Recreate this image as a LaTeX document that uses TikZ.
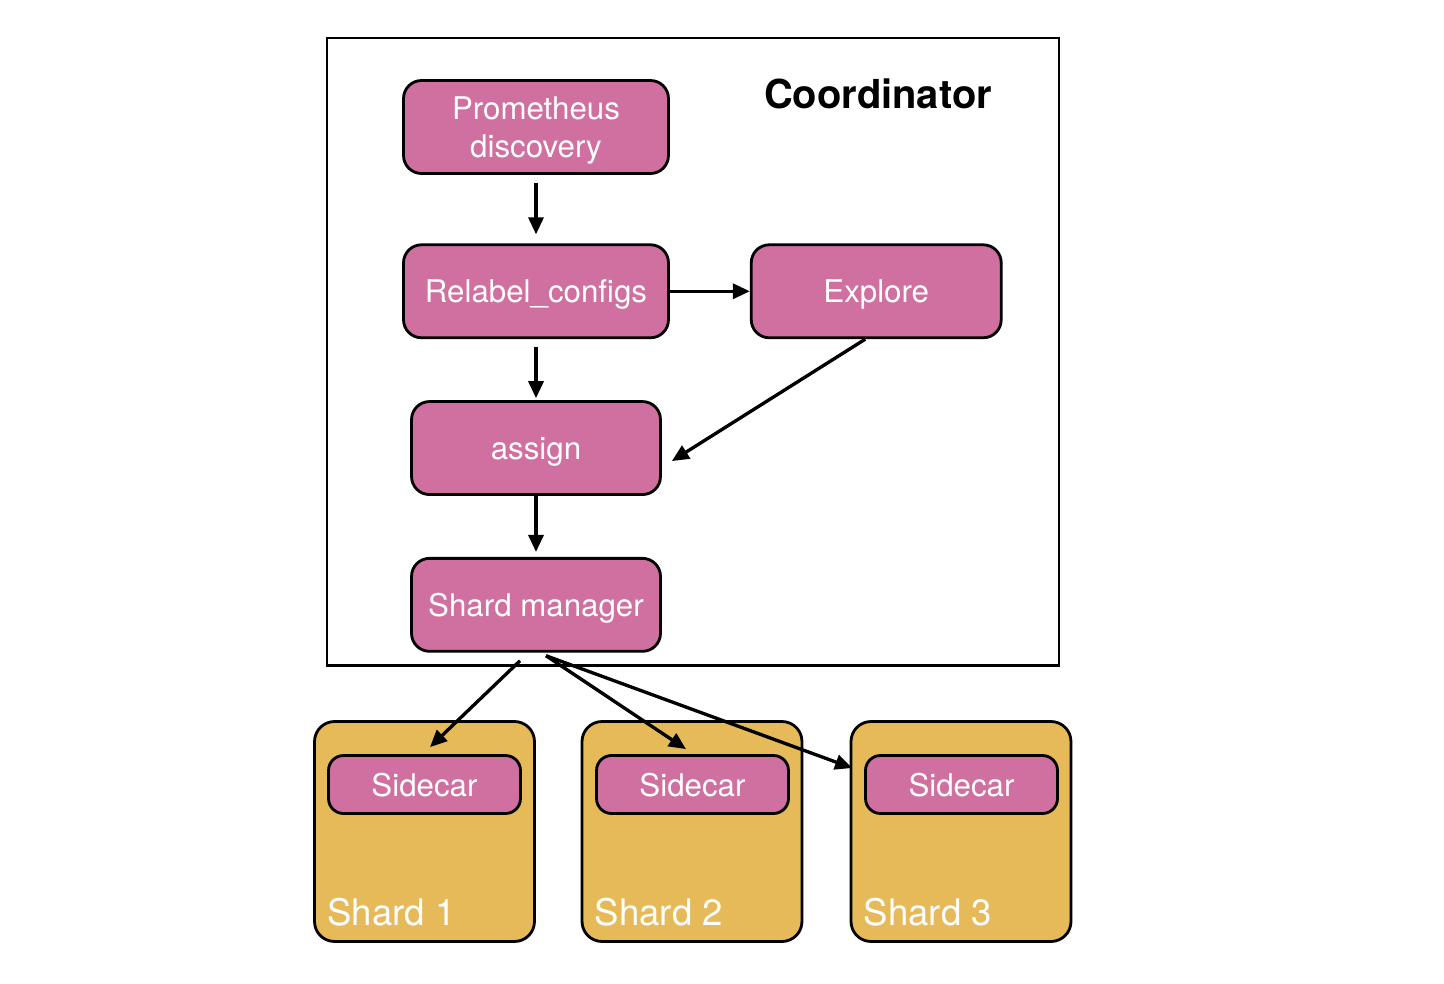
\documentclass[tikz,border=0pt]{standalone}
\usepackage{fontspec}
\setmainfont{TeX Gyre Heros}
\usepackage{xcolor}
\usetikzlibrary{arrows.meta,positioning}
\definecolor{colorPk}{RGB}{208,112,160}
\definecolor{colorGd}{RGB}{230,186,88}
\tikzstyle{comp}=[draw, line width=1.6pt, rounded corners=0.36cm, fill=colorPk, text=white, align=center, minimum height=1.86cm, text depth=0pt, font=\fontsize{17.8}{22}\selectfont]
\tikzstyle{side}=[comp, minimum width=3.84cm, minimum height=1.16cm, rounded corners=0.3cm]
\tikzstyle{shard}=[draw, line width=1.6pt, rounded corners=0.4cm, fill=colorGd, minimum width=4.4cm, minimum height=4.4cm]
\tikzstyle{lab}=[text=white, inner sep=0pt, anchor=base west, font=\fontsize{20.8}{24}\selectfont]
\tikzstyle{arr}=[line width=1.9pt, -{Triangle[length=0.34cm,width=0.3cm]}]

\begin{document}
\begin{tikzpicture}[x=0.02cm,y=-0.02cm]
\useasboundingbox (0,0) rectangle (1444,984);

% coordinator
\node (coordbox) [draw, line width=1.2pt, minimum width=14.66cm, minimum height=12.56cm] at (693,351.5) {};
\node (title) [font=\bfseries\fontsize{22.7}{27}\selectfont] at (878,94) {Coordinator};

\node (prom) [comp, minimum width=5.3cm] at (536,127) {Prometheus\\discovery};
\node (relabel) [comp, minimum width=5.3cm, below=1.37cm of prom] {Relabel\_configs};
\node (explore) [comp, minimum width=5cm, right=1.6cm of relabel] {Explore};
\node (assign) [comp, minimum width=4.98cm, below=1.22cm of relabel] {assign};
\node (sm) [comp, minimum width=4.98cm, below=1.22cm of assign] {Shard manager};

% shards
\node (shard1) [shard] at (424.5,831.5) {};
\node (shard2) [shard] at (692,831.5) {};
\node (shard3) [shard] at (961,831.5) {};
\node (side1) [side] at (424.5,784.5) {Sidecar};
\node (side2) [side] at (692.5,784.5) {Sidecar};
\node (side3) [side] at (961.5,784.5) {Sidecar};
\node (lab1) [lab] at ([shift={(0.28cm,0.34cm)}]shard1.south west) {Shard 1};
\node (lab2) [lab] at ([shift={(0.28cm,0.34cm)}]shard2.south west) {Shard 2};
\node (lab3) [lab] at ([shift={(0.28cm,0.34cm)}]shard3.south west) {Shard 3};

% arrows
\draw [arr, shorten <=0.16cm, shorten >=0.18cm] (prom) -- (relabel);
\draw [arr] (relabel) -- (explore);
\draw [arr, shorten <=0.16cm, shorten >=0.04cm] (relabel) -- (assign);
\draw [arr] ([xshift=-0.22cm]explore.south) -- ([shift={(0.2cm,-0.26cm)}]assign.east);
\draw [arr, shorten >=0.1cm] (assign) -- (sm);
\coordinate (smout) at ([shift={(0.2cm,-0.06cm)}]sm.south);
\draw [arr] ([shift={(-0.32cm,-0.16cm)}]sm.south) -- ([shift={(0.11cm,0.14cm)}]side1.north);
\draw [arr] (smout) -- ([shift={(-0.13cm,0.1cm)}]side2.north);
\draw [arr] (smout) -- ([shift={(-0.24cm,0.33cm)}]side3.west);

\end{tikzpicture}
\end{document}
